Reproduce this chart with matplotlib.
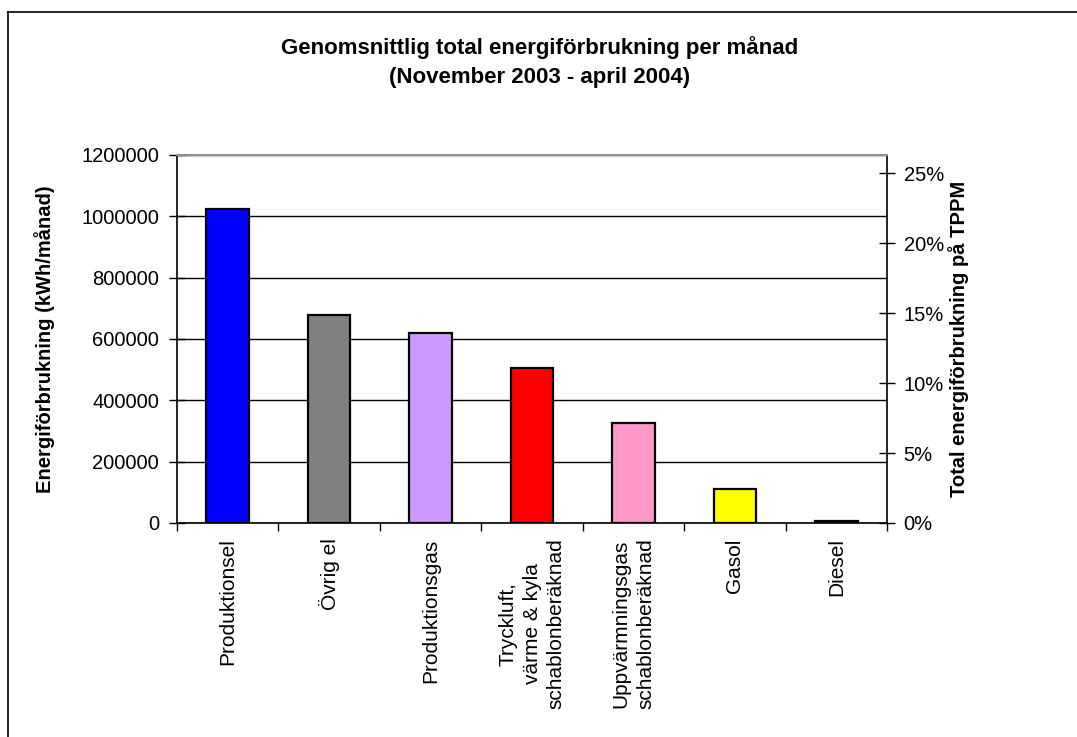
import numpy as np
import matplotlib
matplotlib.use('Agg')
import matplotlib.pyplot as plt
from matplotlib.ticker import FixedLocator, PercentFormatter
from matplotlib.lines import Line2D

# 字体：Arial 的替代
plt.rcParams['font.family'] = ['Liberation Sans', 'DejaVu Sans']

# ========== 数据 ==========
categories = [
    "Produktionsel",
    "Övrig el",
    "Produktionsgas",
    "Tryckluft,\nvärme & kyla\nschablonberäknad",
    "Uppvärmningsgas\nschablonberäknad",
    "Gasol",
    "Diesel",
]
energy_kwh = [1023000, 677000, 619000, 504000, 325000, 112000, 5000]
bar_colors = ['#0000FF', '#808080', '#CC99FF', '#FF0000', '#FF99CC', '#FFFF00', '#000000']

left_ticks = [0, 200000, 400000, 600000, 800000, 1000000, 1200000]
right_ticks = [0, 5, 10, 15, 20, 25]
right_max = 26.3   # 右轴顶端约 26.3%

title = "Genomsnittlig total energiförbrukning per månad\n(November 2003 - april 2004)"
ylabel_left = "Energiförbrukning (kWh/månad)"
ylabel_right = "Total energiförbrukning på TPPM"

# ========== 绘图 ==========
W, H = 1077, 737
fig = plt.figure(figsize=(W / 100, H / 100), dpi=100)
ax = fig.add_axes([177 / W, 1 - 523 / H, 710 / W, 368 / H])

x = np.arange(len(categories))
ax.bar(x, energy_kwh, width=0.42, color=bar_colors, edgecolor='black', linewidth=1.6, zorder=3)

ax.set_xlim(-0.5, len(categories) - 0.5)
ax.set_ylim(0, left_ticks[-1])
ax.set_yticks(left_ticks)
ax.set_yticklabels([str(v) for v in left_ticks], fontsize=14.5)
ax.yaxis.grid(True, color='black', linewidth=1.0, zorder=0)
ax.set_axisbelow(True)

ax.set_xticks(x)
ax.set_xticklabels(categories, rotation=90, fontsize=15, ha='center', va='top',
                   multialignment='center', linespacing=1.35)
ax.tick_params(axis='x', which='major', length=0, pad=11)
ax.xaxis.set_minor_locator(FixedLocator(np.arange(-0.5, len(categories), 1.0)))
ax.tick_params(axis='x', which='minor', direction='out', length=6, width=1)
ax.tick_params(axis='y', direction='inout', length=12, width=1, pad=7)

ax.set_ylabel(ylabel_left, fontsize=14.5, fontweight='bold', labelpad=19)

for side in ['left', 'bottom', 'right']:
    ax.spines[side].set_color('black')
    ax.spines[side].set_linewidth(1.2)
ax.spines['top'].set_color('#909090')
ax.spines['top'].set_linewidth(1.5)

# 右轴：百分比
ax2 = ax.twinx()
ax2.set_ylim(0, right_max)
ax2.set_yticks(right_ticks)
ax2.yaxis.set_major_formatter(PercentFormatter(decimals=0))
ax2.tick_params(axis='y', direction='inout', length=12, width=1, labelsize=14.5, pad=6)
ax2.set_ylabel(ylabel_right, fontsize=14.5, fontweight='bold', labelpad=3)
for side in ax2.spines:
    ax2.spines[side].set_visible(False)

# 标题
fig.text(540 / W, 1 - 62 / H, title, ha='center', va='center', fontsize=16,
         fontweight='bold', linespacing=1.45)

# 外框（只看到左边和上边）
fig.add_artist(Line2D([8 / W, 8 / W], [0, 1 - 12 / H], color='black', linewidth=1.2,
                      transform=fig.transFigure))
fig.add_artist(Line2D([8 / W, 1], [1 - 12 / H, 1 - 12 / H], color='black', linewidth=1.2,
                      transform=fig.transFigure))

fig.savefig('out.png', dpi=100, facecolor='white')
